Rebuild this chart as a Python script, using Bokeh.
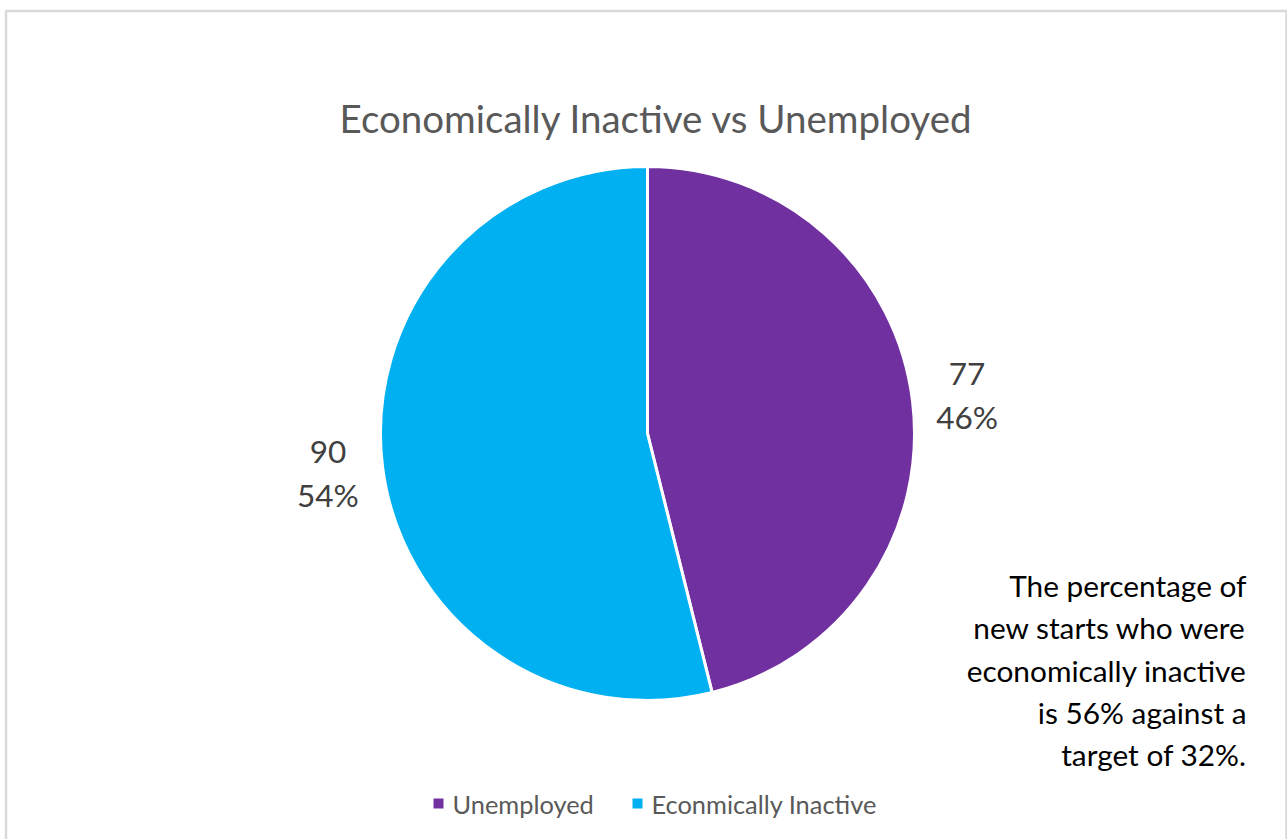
import math
from bokeh.plotting import figure
from bokeh.models import Range1d, ColumnDataSource
from bokeh.core.properties import value
from bokeh.embed import file_html
from bokeh.resources import INLINE

# ---- data ----
categories = ["Unemployed", "Economically Inactive"]
legend_labels = ["Unemployed", "Econmically Inactive"]
counts = [77, 90]
colors = ["#7030A0", "#00B0F0"]
title_text = "Economically Inactive vs Unemployed"
note_lines = ["The percentage of", "new starts who were", "economically inactive",
              "is 56% against a", "target of 32%."]

W, H = 1287, 839
FONT = "Lato"

p = figure(width=W, height=H, output_backend="svg", toolbar_location=None,
           x_range=Range1d(0, W), y_range=Range1d(0, H), min_border=0)
p.axis.visible = False
p.grid.visible = False
p.outline_line_color = None
p.background_fill_color = "white"
p.border_fill_color = "white"

def Y(py):
    return H - py

# border
p.quad(left=[5.5], right=[1286], top=[Y(10.5)], bottom=[-20],
       fill_color=None, line_color="#D9D9D9", line_width=2.5)

# title
p.text(x=[656], y=[Y(117)], text=[title_text], text_font=value(FONT),
       text_font_size="38.5px", text_color="#595959", text_align="center",
       text_baseline="alphabetic")

# pie
cx, cy, r = 647, Y(433), 267
total = sum(counts)
starts, ends, mids = [], [], []
cum = 0.0
for c in counts:
    a0 = math.pi / 2 - 2 * math.pi * cum / total
    cum += c
    a1 = math.pi / 2 - 2 * math.pi * cum / total
    starts.append(a0); ends.append(a1); mids.append((a0 + a1) / 2)

src = ColumnDataSource(dict(start=starts, end=ends, color=colors, cat=categories))
p.wedge(x=cx, y=cy, radius=r, start_angle="start", end_angle="end",
        direction="clock", fill_color="color", line_color="white",
        line_width=3, source=src)

# data labels
lr = 322
lx = [cx + lr * math.cos(m) for m in mids]
ly = [cy + lr * math.sin(m) for m in mids]
vals = [str(c) for c in counts]
pcts = [f"{round(100 * c / total)}%" for c in counts]
p.text(x=lx, y=ly, text=vals, text_font=value(FONT), text_font_size="31.5px",
       text_color="#404040", text_align="center", text_baseline="alphabetic",
       y_offset=-20.5)
p.text(x=lx, y=ly, text=pcts, text_font=value(FONT), text_font_size="31.5px",
       text_color="#404040", text_align="center", text_baseline="alphabetic",
       y_offset=22.5)

# annotation
note_y = [Y(585 + 42.3 * i) for i in range(len(note_lines))]
p.text(x=[1246] * len(note_lines), y=note_y, text=note_lines,
       text_font=value(FONT), text_font_size="29.8px", text_color="#000000",
       text_align="right", text_baseline="alphabetic")

# legend
leg_x = [438, 637]
leg_y = Y(803)
p.scatter(x=leg_x, y=[leg_y] * 2, marker="square", size=10,
          fill_color=colors, line_color=None)
p.text(x=[x + 14 for x in leg_x], y=[leg_y] * 2, text=legend_labels,
       text_font=value(FONT), text_font_size="25.4px", text_color="#595959",
       text_align="left", text_baseline="middle")

open("out.html", "w").write(file_html(p, INLINE))
